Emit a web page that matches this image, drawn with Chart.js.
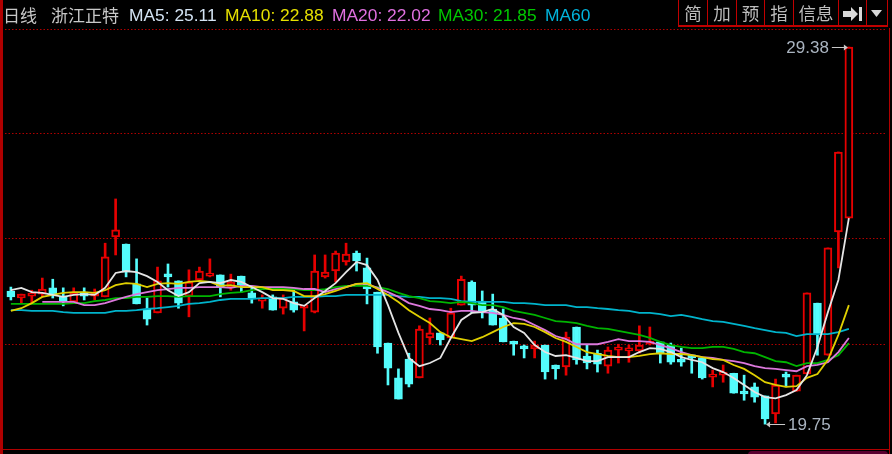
<!DOCTYPE html>
<html>
<head>
<meta charset="utf-8">
<title>日线 浙江正特</title>
<script src="https://cdn.jsdelivr.net/npm/chart.js@4"></script>
<style>
  html, body { margin: 0; padding: 0; background: #000; }
  #wrap { position: relative; width: 892px; height: 454px; overflow: hidden; background: #000; }
  #chart { position: absolute; left: 0; top: 0; }
  .t { position: absolute; top: 3px; line-height: 24px; white-space: nowrap; font-family: "Liberation Sans", Arial, sans-serif; font-size: 17.4px; }
  .cn { font-family: "Noto Sans CJK SC", sans-serif; font-size: 17px; color: #c8c8c8; }
  .btn { position: absolute; top: 0; height: 27px; box-sizing: border-box; border-left: 1px solid #c00000; border-bottom: 2px solid #c00000; background: #000;
         font-family: "Noto Sans CJK SC", sans-serif; font-size: 17.5px; line-height: 26px; color: #bdbdbd; text-align: center; }
  .frame { position: absolute; background: #b00000; }
</style>
</head>
<body>
<div id="wrap">
  <canvas id="chart" width="892" height="454"></canvas>

  <div class="frame" style="left:0;top:0;width:3px;height:454px"></div>
  <div class="frame" style="left:0;top:449px;width:890px;height:1px"></div>
  <div class="frame" style="left:889px;top:28px;width:1px;height:426px"></div>
  <div style="position:absolute;left:748px;top:451px;width:140px;height:8px;background:#5a0030;border-radius:4px"></div>

  <span class="t cn" style="left:3px">日线</span>
  <span class="t cn" style="left:51px">浙江正特</span>
  <span class="t" style="left:129px;color:#d4e4f4">MA5: 25.11</span>
  <span class="t" style="left:225px;color:#e6e000">MA10: 22.88</span>
  <span class="t" style="left:332px;color:#e070e0">MA20: 22.02</span>
  <span class="t" style="left:438px;color:#00c800">MA30: 21.85</span>
  <span class="t" style="left:545px;color:#00b4dc">MA60</span>

  <div class="btn" style="left:678px;width:29px">简</div>
  <div class="btn" style="left:707px;width:29px">加</div>
  <div class="btn" style="left:736px;width:28px">预</div>
  <div class="btn" style="left:764px;width:29px">指</div>
  <div class="btn" style="left:793px;width:45px">信息</div>
  <div class="btn" style="left:838px;width:28px">
    <svg width="22" height="16" style="margin-top:6px"><path d="M1 5h8V1l7 7-7 7v-4H1z" fill="#d8d8d8"/><rect x="17" y="1" width="3" height="14" fill="#d8d8d8"/></svg>
  </div>
  <div class="btn" style="left:866px;width:22px;border-right:1px solid #c00000">
    <svg width="12" height="8" style="margin-bottom:2px"><path d="M0 0h11L5.5 7z" fill="#d8d8d8"/></svg>
  </div>
</div>

<script>
// one entry per trading day
const opens = [23.15,22.97,23.02,23.07,23.23,23.02,22.87,23.12,23.02,23.00,24.53,24.35,23.33,22.69,22.59,23.56,23.41,23.02,23.43,23.53,23.56,23.25,23.53,23.10,22.89,23.00,22.71,22.87,22.71,22.61,23.51,23.66,23.89,24.12,23.74,23.12,21.82,20.93,21.41,20.93,21.95,22.08,21.95,22.79,23.38,22.89,22.69,22.46,21.85,21.72,21.67,21.77,21.26,21.21,22.23,21.49,21.56,21.23,21.64,21.62,21.62,21.79,21.85,21.77,21.36,21.46,21.44,20.95,21.00,21.05,20.54,20.70,20.47,20.01,20.98,20.59,21.03,22.84,21.51,24.66,25.01];
const closes = [23.00,23.07,23.02,23.20,23.05,22.87,23.10,23.02,23.10,24.02,24.71,23.63,22.82,22.43,23.41,23.51,22.84,23.38,23.66,23.56,23.25,23.38,23.30,22.95,22.92,22.66,22.97,22.66,22.77,23.66,23.63,24.12,24.09,23.92,23.20,21.72,21.18,20.39,20.77,22.18,22.08,21.90,22.59,23.45,22.79,22.64,22.28,21.85,21.79,21.67,21.77,21.08,21.16,21.97,21.39,21.31,21.28,21.64,21.64,21.62,21.77,21.85,21.56,21.33,21.33,21.44,20.93,20.95,21.00,20.54,20.52,20.44,19.88,20.75,20.95,21.00,23.10,22.03,24.25,26.70,29.38];
const highs = [23.25,23.07,23.17,23.48,23.45,23.23,23.23,23.23,23.20,24.37,25.50,24.35,23.97,22.97,23.76,23.84,23.41,23.69,23.76,23.97,23.56,23.58,23.53,23.25,23.05,23.05,23.05,23.17,22.77,24.07,24.07,24.17,24.37,24.17,23.99,23.12,21.82,21.16,21.56,22.26,22.46,22.08,22.71,23.53,23.41,23.15,23.07,22.69,21.87,21.77,21.87,21.77,21.26,22.10,22.23,21.77,21.64,21.72,21.79,21.77,22.26,22.23,21.85,21.82,21.69,21.51,21.44,21.13,21.26,21.05,21.00,20.80,20.47,20.90,21.08,21.00,23.10,22.84,24.25,26.70,29.38];
const lows = [22.92,22.84,22.84,23.00,22.97,22.77,22.87,22.92,22.92,23.00,24.07,23.51,22.82,22.28,22.59,23.25,22.71,22.49,23.43,23.51,23.00,23.17,23.12,22.84,22.71,22.66,22.56,22.61,22.13,22.59,23.48,23.38,23.81,23.66,22.82,21.56,20.75,20.39,20.70,20.93,21.79,21.77,21.95,22.79,22.59,22.46,22.28,21.85,21.51,21.44,21.44,20.90,20.90,21.00,21.28,21.16,21.08,21.05,21.31,21.33,21.56,21.77,21.31,21.28,21.23,21.05,20.90,20.70,20.82,20.54,20.36,20.31,19.75,19.78,20.70,20.59,21.03,21.51,21.51,23.74,25.01];

const ma5 = [23.17,23.23,23.12,23.10,23.05,23.00,23.05,23.07,23.05,23.23,23.61,23.66,23.63,23.53,23.38,23.17,23.02,23.12,23.35,23.38,23.35,23.43,23.38,23.25,23.12,22.97,22.95,22.84,22.77,22.97,23.15,23.35,23.63,23.89,23.81,23.43,22.79,22.08,21.44,21.23,21.31,21.44,21.95,22.41,22.59,22.61,22.69,22.54,22.23,22.08,21.77,21.59,21.49,21.51,21.44,21.36,21.36,21.46,21.46,21.46,21.59,21.69,21.67,21.59,21.46,21.39,21.33,21.18,21.08,20.93,20.75,20.57,20.44,20.41,20.49,20.62,21.00,21.72,22.61,23.43,25.01];
const ma10 = [22.64,22.71,22.84,23.00,23.05,23.10,23.12,23.12,23.10,23.17,23.30,23.35,23.33,23.25,23.33,23.35,23.33,23.38,23.41,23.38,23.28,23.30,23.25,23.25,23.25,23.17,23.17,23.15,23.02,23.02,23.07,23.15,23.25,23.33,23.35,23.20,23.05,22.87,22.66,22.49,22.33,22.10,21.97,21.92,21.87,21.97,22.10,22.23,22.33,22.31,22.23,22.10,21.95,21.85,21.72,21.59,21.54,21.49,21.46,21.46,21.49,21.54,21.56,21.54,21.54,21.51,21.46,21.41,21.39,21.26,21.16,21.00,20.82,20.75,20.70,20.72,20.93,21.03,21.39,22.03,22.79];
const ma20 = [null,null,null,22.87,22.87,22.87,22.87,22.79,22.79,22.84,22.92,23.00,23.07,23.12,23.17,23.20,23.23,23.23,23.25,23.25,23.25,23.23,23.28,23.28,23.25,23.25,23.25,23.23,23.20,23.20,23.12,23.20,23.25,23.33,23.33,23.23,23.12,23.00,22.84,22.77,22.69,22.66,22.61,22.64,22.64,22.61,22.59,22.54,22.46,22.41,22.28,22.15,22.00,21.92,21.79,21.79,21.79,21.85,21.92,21.87,21.87,21.85,21.77,21.69,21.59,21.51,21.46,21.44,21.39,21.36,21.31,21.23,21.18,21.16,21.13,21.10,21.23,21.26,21.33,21.59,21.95];
const ma30 = [22.82,22.82,22.82,22.82,22.82,22.82,22.84,22.84,22.89,22.92,22.97,22.97,23.00,23.00,23.02,23.02,23.00,23.02,23.02,23.02,23.07,23.10,23.12,23.17,23.20,23.20,23.20,23.20,23.17,23.17,23.20,23.25,23.28,23.28,23.28,23.25,23.20,23.10,23.02,22.97,22.89,22.87,22.84,22.87,22.84,22.79,22.79,22.74,22.64,22.59,22.54,22.46,22.38,22.36,22.33,22.26,22.20,22.18,22.13,22.08,22.03,21.95,21.85,21.77,21.72,21.69,21.69,21.72,21.72,21.67,21.59,21.56,21.46,21.36,21.33,21.23,21.31,21.31,21.39,21.51,21.82];
const ma60 = [22.66,22.66,22.64,22.64,22.64,22.61,22.59,22.59,22.59,22.59,22.64,22.64,22.66,22.69,22.71,22.74,22.77,22.82,22.84,22.87,22.92,22.95,22.95,22.95,22.97,22.97,22.97,23.00,23.00,23.00,23.02,23.02,23.05,23.05,23.05,23.05,23.05,23.02,23.00,23.00,22.97,22.97,22.95,22.89,22.87,22.87,22.87,22.87,22.84,22.84,22.82,22.79,22.79,22.79,22.74,22.74,22.71,22.69,22.66,22.64,22.59,22.59,22.56,22.51,22.54,22.49,22.43,22.38,22.36,22.31,22.26,22.20,22.15,22.10,22.08,22.00,22.05,22.05,22.05,22.10,22.18];

const gridPrices = [21.79, 24.48, 27.16, 29.84];

const UP = '#e60000';
const DOWN = '#54fcfc';
const isUp = opens.map((o, i) => closes[i] >= o);
const candleColor = isUp.map(u => (u ? UP : DOWN));

function lineSet(label, values, color, order) {
  return {
    type: 'line',
    label,
    data: values.map((v, i) => ({ x: i, y: v })),
    borderColor: color,
    borderWidth: 1.8,
    pointRadius: 0,
    tension: 0,
    spanGaps: false,
    order,
  };
}

// 29.38 / 19.75 markers with the little arrows
const extremes = {
  id: 'extremes',
  afterDatasetsDraw(chart) {
    const { ctx, scales: { x, y } } = chart;
    const hi = Math.max(...highs);
    const lo = Math.min(...lows);
    const hiX = x.getPixelForValue(highs.indexOf(hi));
    const loX = x.getPixelForValue(lows.indexOf(lo));
    const hiY = Math.round(y.getPixelForValue(hi));
    const loY = Math.round(y.getPixelForValue(lo));

    ctx.save();
    ctx.font = '17px "Liberation Sans", Arial, sans-serif';
    ctx.textBaseline = 'middle';
    ctx.fillStyle = '#aab4c0';
    ctx.textAlign = 'right';
    ctx.fillText(hi.toFixed(2), hiX - 20, hiY + 1);
    ctx.textAlign = 'left';
    ctx.fillText(lo.toFixed(2), loX + 23, loY + 1);

    ctx.strokeStyle = '#c8c8c8';
    ctx.fillStyle = '#c8c8c8';
    ctx.lineWidth = 1;
    ctx.beginPath();
    ctx.moveTo(hiX - 17, hiY + 0.5); ctx.lineTo(hiX - 2, hiY + 0.5);
    ctx.moveTo(loX + 2, loY + 0.5); ctx.lineTo(loX + 20, loY + 0.5);
    ctx.stroke();
    ctx.beginPath();
    ctx.moveTo(hiX - 1, hiY + 0.5); ctx.lineTo(hiX - 5, hiY - 2.5); ctx.lineTo(hiX - 5, hiY + 3.5); ctx.fill();
    ctx.beginPath();
    ctx.moveTo(loX + 1, loY + 0.5); ctx.lineTo(loX + 5, loY - 2.5); ctx.lineTo(loX + 5, loY + 3.5); ctx.fill();
    ctx.restore();
  },
};

new Chart(document.getElementById('chart'), {
  type: 'bar',
  data: {
    datasets: [
      lineSet('MA60', ma60, '#00b4cc', 5),
      lineSet('MA30', ma30, '#00b400', 4),
      lineSet('MA20', ma20, '#dc78dc', 3),
      lineSet('MA10', ma10, '#e0d000', 2),
      lineSet('MA5', ma5, '#e4e4e4', 1),
      {
        label: 'body',
        data: opens.map((o, i) => ({ x: i, y: [o, closes[i]] })),
        backgroundColor: isUp.map(u => (u ? '#000000' : DOWN)),
        borderColor: candleColor,
        borderWidth: 2,
        borderSkipped: false,
        barThickness: 8,
        minBarLength: 3,
        grouped: false,
        order: 6,
      },
      {
        label: 'wick',
        data: highs.map((h, i) => ({ x: i, y: [lows[i], h] })),
        backgroundColor: candleColor,
        borderWidth: 0,
        barThickness: 2,
        grouped: false,
        order: 7,
      },
    ],
  },
  options: {
    responsive: false,
    animation: false,
    events: [],
    layout: { padding: { left: 5, right: 5, top: 2, bottom: 6 } },
    plugins: { legend: { display: false }, tooltip: { enabled: false } },
    scales: {
      x: {
        type: 'linear',
        min: -0.56,
        max: 83.64,
        offset: false,
        display: false,
        grid: { display: false },
      },
      y: {
        min: 19.14,
        max: 30.53,
        position: 'left',
        afterBuildTicks(scale) { scale.ticks = gridPrices.map(value => ({ value })); },
        afterFit(scale) { scale.width = 0; },
        ticks: { display: false },
        border: { display: false, dash: [1.5, 2] },
        grid: { color: '#b00000', lineWidth: 1, drawTicks: false, tickLength: 0 },
      },
    },
  },
  plugins: [extremes],
});
</script>
</body>
</html>
